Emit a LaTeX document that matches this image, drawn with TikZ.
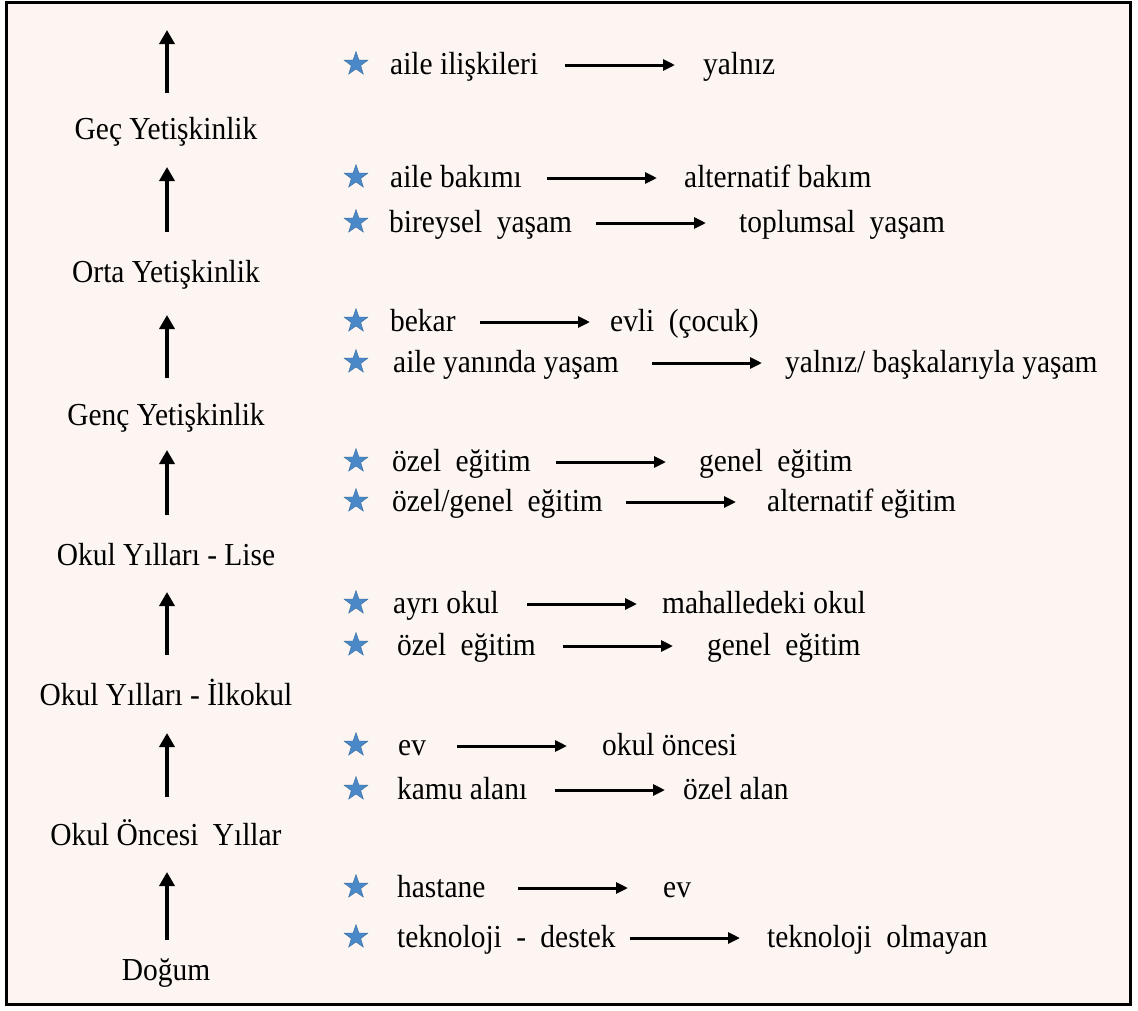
\documentclass[tikz,border=0pt]{standalone}
\usepackage{fontspec}
\setmainfont{Liberation Serif}
\newfontfamily\tnr{Liberation Serif}[FakeStretch=0.92]
\usetikzlibrary{arrows.meta,shapes.geometric}
\definecolor{bgpink}{HTML}{FCF5F2}
\definecolor{starblue}{HTML}{4A88C7}
\newcommand{\wsp}{\hspace{0.45em}}
\begin{document}
\begin{tikzpicture}[x=1pt,y=-1pt,
  lbl/.style={font=\tnr\fontsize{32}{36}\selectfont, inner sep=0pt, anchor=base},
  txt/.style={font=\tnr\fontsize{32}{36}\selectfont, inner sep=0pt, anchor=base west},
  upar/.style={line width=4.5pt, -{Triangle[length=14pt,width=15pt]}},
  harr/.style={line width=3pt, -{Triangle[length=12pt,width=11pt]}},
  bstar/.style={star, star points=5, star point ratio=2.5, minimum size=25pt,
    inner sep=0pt, fill=starblue, draw=starblue!80!black, line width=0.4pt}]
\useasboundingbox (0,0) rectangle (1138,1010);
\fill[white] (0,0) rectangle (1138,1010);
\draw[line width=3pt, fill=bgpink] (6.5,2.5) rectangle (1130.5,1004.5);

% left column
\node[lbl] (L1) at (166,139) {Geç Yetişkinlik};
\node[lbl] (L2) at (166,282) {Orta Yetişkinlik};
\node[lbl] (L3) at (166,425) {Genç Yetişkinlik};
\node[lbl] (L4) at (166,565) {Okul Yılları - Lise};
\node[lbl] (L5) at (166,705) {Okul Yılları - İlkokul};
\node[lbl] (L6) at (166,845) {Okul Öncesi\wsp Yıllar};
\node[lbl] (L7) at (166,980) {Doğum};

\coordinate (u1s) at (167,93);  \coordinate (u1e) at (167,30);
\coordinate (u2s) at (167,232); \coordinate (u2e) at (167,167);
\coordinate (u3s) at (167,378); \coordinate (u3e) at (167,315);
\coordinate (u4s) at (167,515); \coordinate (u4e) at (167,450);
\coordinate (u5s) at (167,655); \coordinate (u5e) at (167,592);
\coordinate (u6s) at (167,797); \coordinate (u6e) at (167,733);
\coordinate (u7s) at (167,940); \coordinate (u7e) at (167,872);
\foreach \i in {1,...,7} \draw[upar] (u\i s) -- (u\i e);

% right rows
\node[bstar] (sA) at (356,64) {};
\node[txt] (lA) at (390,74) {aile ilişkileri};
\node[txt] (rA) at (703,74) {yalnız};
\coordinate (aAs) at (565,65); \coordinate (aAe) at (675,65);

\node[bstar] (sB) at (356,177) {};
\node[txt] (lB) at (390,187) {aile bakımı};
\node[txt] (rB) at (684,187) {alternatif bakım};
\coordinate (aBs) at (547,178); \coordinate (aBe) at (657,178);

\node[bstar] (sC) at (356,222) {};
\node[txt] (lC) at (389,232) {bireysel\wsp yaşam};
\node[txt] (rC) at (739,232) {toplumsal\wsp yaşam};
\coordinate (aCs) at (596,223); \coordinate (aCe) at (706,223);

\node[bstar] (sD) at (356,321) {};
\node[txt] (lD) at (390,331) {bekar};
\node[txt] (rD) at (610,331) {evli\wsp (çocuk)};
\coordinate (aDs) at (480,322); \coordinate (aDe) at (590,322);

\node[bstar] (sE) at (356,362) {};
\node[txt] (lE) at (393,372) {aile yanında yaşam};
\node[txt] (rE) at (785,372) {yalnız/ başkalarıyla yaşam};
\coordinate (aEs) at (652,363); \coordinate (aEe) at (762,363);

\node[bstar] (sF) at (356,461) {};
\node[txt] (lF) at (392,471) {özel\wsp eğitim};
\node[txt] (rF) at (699,471) {genel\wsp eğitim};
\coordinate (aFs) at (556,462); \coordinate (aFe) at (666,462);

\node[bstar] (sG) at (356,501) {};
\node[txt] (lG) at (392,511) {özel/genel\wsp eğitim};
\node[txt] (rG) at (767,511) {alternatif eğitim};
\coordinate (aGs) at (626,502); \coordinate (aGe) at (736,502);

\node[bstar] (sH) at (356,603) {};
\node[txt] (lH) at (393,613) {ayrı okul};
\node[txt] (rH) at (662,613) {mahalledeki okul};
\coordinate (aHs) at (527,604); \coordinate (aHe) at (637,604);

\node[bstar] (sI) at (356,645) {};
\node[txt] (lI) at (397,655) {özel\wsp eğitim};
\node[txt] (rI) at (707,655) {genel\wsp eğitim};
\coordinate (aIs) at (563,646); \coordinate (aIe) at (673,646);

\node[bstar] (sJ) at (356,745) {};
\node[txt] (lJ) at (398,755) {ev};
\node[txt] (rJ) at (602,755) {okul öncesi};
\coordinate (aJs) at (457,746); \coordinate (aJe) at (567,746);

\node[bstar] (sK) at (356,789) {};
\node[txt] (lK) at (397,799) {kamu alanı};
\node[txt] (rK) at (683,799) {özel alan};
\coordinate (aKs) at (555,790); \coordinate (aKe) at (665,790);

\node[bstar] (sL) at (356,887) {};
\node[txt] (lL) at (397,897) {hastane};
\node[txt] (rL) at (663,897) {ev};
\coordinate (aLs) at (518,888); \coordinate (aLe) at (628,888);

\node[bstar] (sM) at (356,937) {};
\node[txt] (lM) at (397,947) {teknoloji\wsp -\wsp destek};
\node[txt] (rM) at (767,947) {teknoloji\wsp olmayan};
\coordinate (aMs) at (630,938); \coordinate (aMe) at (740,938);

\foreach \r in {A,B,C,D,E,F,G,H,I,J,K,L,M} \draw[harr] (a\r s) -- (a\r e);
\end{tikzpicture}
\end{document}
